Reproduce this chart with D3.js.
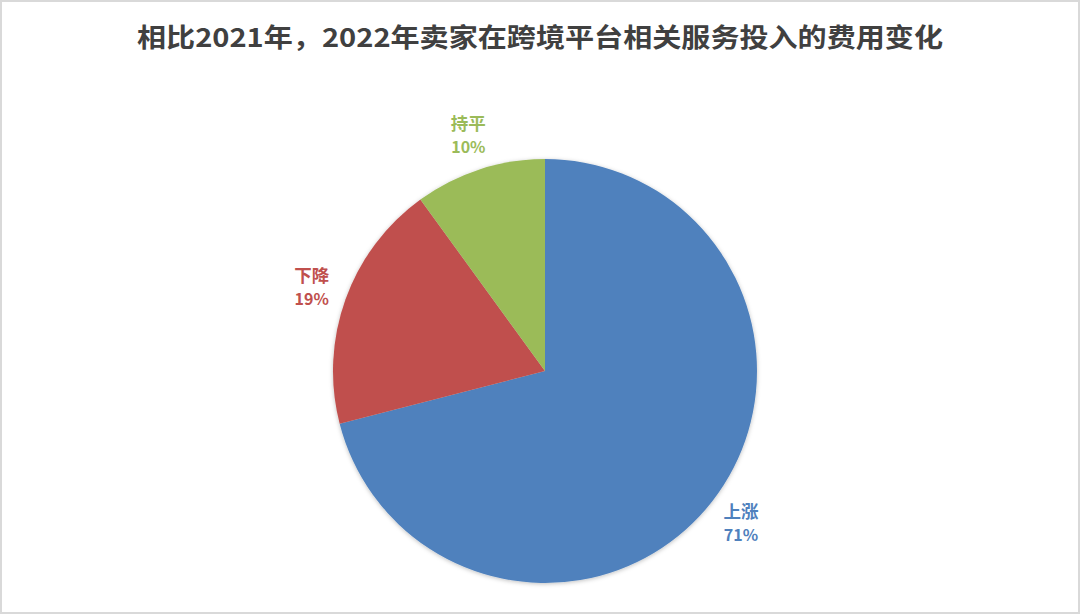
<!DOCTYPE html>
<html><head><meta charset="utf-8">
<script src="https://cdn.jsdelivr.net/npm/d3@7"></script>
<style>html,body{margin:0;padding:0;background:#fff;}</style>
</head><body>
<svg id="chart" width="1080" height="614"></svg>
<script>
const title = "相比2021年，2022年卖家在跨境平台相关服务投入的费用变化";
const categories = ["上涨", "下降", "持平"];
const values = [71, 19, 10];
const colors = ["#4F81BD", "#C0504D", "#9BBB59"];

const W = 1080, H = 614;
const svg = d3.select("#chart");
const font = "'Noto Sans CJK SC', 'Noto Sans', sans-serif";

const defs = svg.append("defs");
const f = defs.append("filter").attr("id", "shadow").attr("x", "-10%").attr("y", "-10%").attr("width", "120%").attr("height", "120%");
f.append("feDropShadow").attr("dx", 0).attr("dy", 1).attr("stdDeviation", 2).attr("flood-color", "#000").attr("flood-opacity", 0.25);

svg.append("rect").attr("x", 1).attr("y", 1).attr("width", W - 2).attr("height", H - 2)
  .attr("fill", "#fff").attr("stroke", "#d9d9d9").attr("stroke-width", 2);

svg.append("text").attr("x", 540).attr("y", 47).attr("text-anchor", "middle")
  .attr("font-family", font).attr("font-weight", "bold").attr("font-size", 26)
  .attr("fill", "#404040").attr("textLength", 806).attr("lengthAdjust", "spacingAndGlyphs")
  .text(title);

const cx = 545, cy = 371, R = 212, LR = 248;
const data = categories.map((c, i) => ({ name: c, value: values[i], color: colors[i] }));
const pie = d3.pie().sort(null).value(d => d.value);
const arcs = pie(data);
const arc = d3.arc().innerRadius(0).outerRadius(R);
const labelArc = d3.arc().innerRadius(LR).outerRadius(LR);

const g = svg.append("g").attr("transform", `translate(${cx},${cy})`);
g.append("g").attr("filter", "url(#shadow)").selectAll("path").data(arcs).join("path")
  .attr("d", arc).attr("fill", d => d.data.color);

const lbl = g.selectAll("g.lbl").data(arcs).join("g").attr("class", "lbl")
  .attr("transform", d => `translate(${labelArc.centroid(d)})`);
lbl.append("text").attr("text-anchor", "middle").attr("y", -5)
  .attr("font-family", font).attr("font-weight", "bold").attr("font-size", 17.5)
  .attr("fill", d => d.data.color).text(d => d.data.name);
lbl.append("text").attr("text-anchor", "middle").attr("y", 18)
  .attr("font-family", font).attr("font-weight", "bold").attr("font-size", 16)
  .attr("fill", d => d.data.color).text(d => d.data.value + "%");
</script>
</body></html>
